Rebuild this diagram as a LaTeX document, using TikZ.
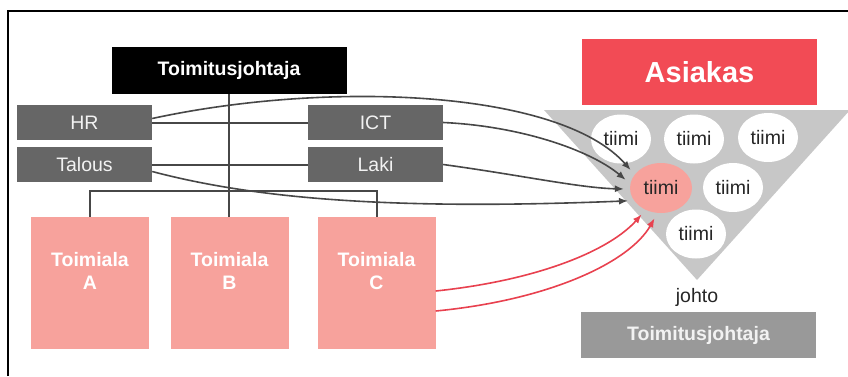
\documentclass[tikz,border=0pt]{standalone}
\usepackage{fontspec}
\setmainfont{Liberation Sans}
\usetikzlibrary{shapes.geometric,arrows.meta,positioning}
\colorlet{staffgray}{black!60}
\definecolor{unitpink}{HTML}{F7A29C}
\definecolor{clientred}{HTML}{F24B55}
\colorlet{funnelgray}{black!22}
\colorlet{leadgray}{black!40}
\colorlet{linkgray}{black!72}
\definecolor{linkred}{HTML}{E8414F}
\tikzset{
  % node options
  box/.style={rectangle,inner sep=0pt,font=\fontsize{19.5}{23}\selectfont},
  boss/.style={box,fill=black,text=white,font=\bfseries\fontsize{19.5}{23}\selectfont,
    minimum width=235pt,minimum height=47pt},
  staff/.style={box,fill=staffgray,text=black!5,minimum width=135pt,minimum height=35pt},
  unit/.style={box,fill=unitpink,minimum width=118pt,minimum height=132pt},
  unitText/.style={box,text=white,align=center,font=\bfseries\fontsize{19.5}{23}\selectfont},
  client/.style={box,fill=clientred,text=white,font=\bfseries\fontsize{29}{34}\selectfont,
    minimum width=235pt,minimum height=66pt},
  lead/.style={box,fill=leadgray,text=black!5,font=\bfseries\fontsize{19.5}{23}\selectfont,
    minimum width=235pt,minimum height=46pt},
  team/.style={ellipse,fill=white,text=black!85,inner sep=0pt,
    minimum width=60pt,minimum height=49pt,font=\fontsize{19.5}{23}\selectfont},
  teamCore/.style={team,fill=unitpink,minimum width=62pt,minimum height=50pt},
  note/.style={inner sep=0pt,text=black!85,font=\fontsize{19.5}{23}\selectfont},
  % path options
  frame/.style={draw=black,line width=1.5pt},
  tree/.style={draw=black!72,line width=2pt},
  flow/.style={draw=linkgray,line width=1.6pt,shorten >=6pt,-{Latex[length=9pt,width=7pt]}},
  flowRed/.style={flow,draw=linkred,-{Latex[length=9pt,width=7pt]}},
}
\begin{document}
\begin{tikzpicture}[x=1pt,y=-1pt]
  \useasboundingbox (0,0) rectangle (848,376);
  \draw[frame] (8,376) -- (8,11) -- (848,11);

  % organisation
  \node[boss] (ceo) at (229,70.5) {Toimitusjohtaja};
  \node[staff] (hr) at (84.5,122.5) {HR};
  \node[staff] (talous) at (84.5,164.5) {Talous};
  \node[staff] (ict) at (375.5,122.5) {ICT};
  \node[staff] (laki) at (375.5,164.5) {Laki};
  \node[unit] (alaA) at (90,283) {};
  \node[unit] (alaB) at (229.5,283) {};
  \node[unit] (alaC) at (376.5,283) {};
  \node[unitText,below=35pt of alaA.north] (alaAText) {Toimiala\\A};
  \node[unitText,below=35pt of alaB.north] (alaBText) {Toimiala\\B};
  \node[unitText,below=35pt of alaC.north] (alaCText) {Toimiala\\C};

  \draw[tree] (ceo.south) -- (ceo.south |- alaB.north);
  \draw[tree] (alaA.north) -- ++(0,-26) -| (alaC.north);
  \draw[tree] (hr.east) -- (ict.west);
  \draw[tree] (talous.east) -- (laki.west);

  % customer side
  \node[client] (asiakas) at (699.5,72) {Asiakas};
  \fill[funnelgray] (544,110) -- (850,110) -- (697,280) -- cycle;
  \node[team] (team1) at (621,139) {tiimi};
  \node[team] (team2) at (694,139) {tiimi};
  \node[team] (team3) at (768,137.5) {tiimi};
  \node[teamCore] (core) at (661,188) {tiimi};
  \node[team] (team5) at (733,187.5) {tiimi};
  \node[team] (team6) at (696,234) {tiimi};
  \node[note] (johto) at (697,297) {johto};
  \node[lead] (lead) at (698.5,335) {Toimitusjohtaja};

  % flows
  \draw[flow] ([yshift=4pt]hr.east) .. controls (330,80) and (560,90) .. (core.153);
  \draw[flow] (ict.east) .. controls (520,126) and (590,150) .. (core.172);
  \draw[flow] (laki.east) .. controls (520,175) and (580,188) .. (core.182);
  \draw[flow] ([yshift=-7pt]talous.east) .. controls (260,200) and (400,210) .. (core.205);
  \draw[flowRed] ([yshift=-8pt]alaC.east) .. controls (540,280) and (610,250) .. (core.235);
  \draw[flowRed] ([yshift=-28pt]alaC.east) .. controls (550,300) and (630,262) .. (core.262);
\end{tikzpicture}
\end{document}
